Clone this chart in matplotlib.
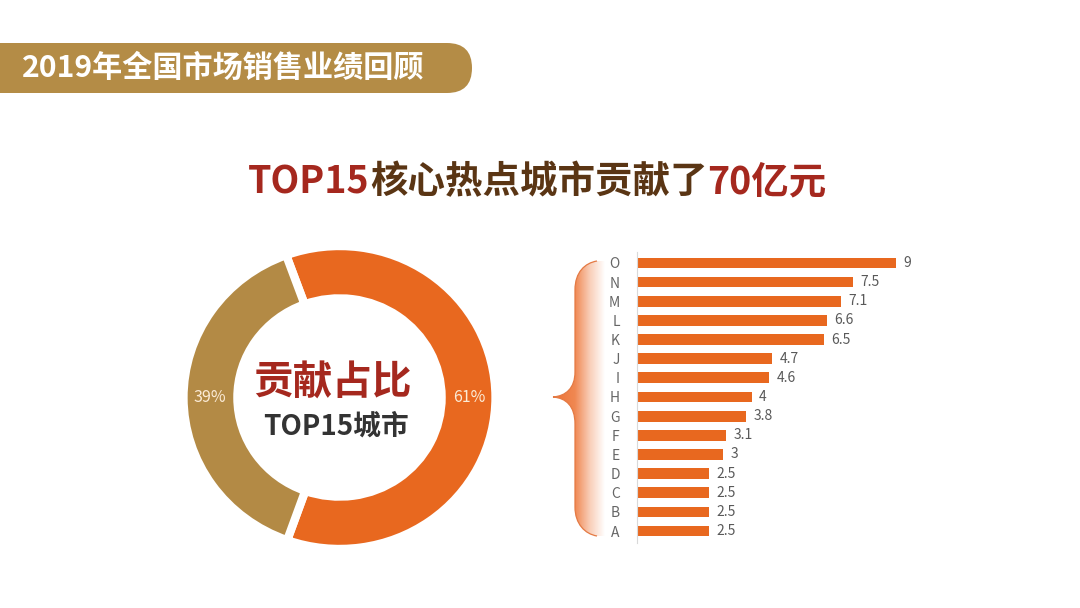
import matplotlib
matplotlib.use('Agg')
import matplotlib.pyplot as plt
import numpy as np
from matplotlib.patches import FancyBboxPatch, PathPatch
from matplotlib.path import Path

plt.rcParams['font.family'] = ['Noto Sans CJK SC', 'DejaVu Sans']

# ---- data ----
header_text = '2019年全国市场销售业绩回顾'
title_parts = ['TOP15', '核心热点城市贡献了', '70亿元']
share_names = ['TOP15城市', '其他城市']
share_values = [61, 39]
center_title = '贡献占比'
center_sub = 'TOP15城市'
cities = ['A', 'B', 'C', 'D', 'E', 'F', 'G', 'H', 'I', 'J', 'K', 'L', 'M', 'N', 'O']
city_values = [2.5, 2.5, 2.5, 2.5, 3, 3.1, 3.8, 4, 4.6, 4.7, 6.5, 6.6, 7.1, 7.5, 9]

# colours
ORANGE = '#E8681F'
TAN = '#B38A45'
DARK_RED = '#A5281E'
BROWN = '#5A3514'
GREY = '#595959'

W, H = 1080, 608
fig = plt.figure(figsize=(W / 100, H / 100), dpi=100)
fig.patch.set_facecolor('white')

# background axes in pixel coordinates (y downwards)
bg = fig.add_axes([0, 0, 1, 1], zorder=0)
bg.set_axis_off()

# header pill
pill = FancyBboxPatch((-40, 43), 512, 50, boxstyle='round,pad=0,rounding_size=25',
                      facecolor='#B48C46', edgecolor='none')
bg.add_patch(pill)
bg.text(22, 68, header_text, color='white', fontsize=21.7, fontweight='bold',
        ha='left', va='center')

# multi coloured title, centred
renderer = fig.canvas.get_renderer()
part_colors = [DARK_RED, BROWN, DARK_RED]
texts = []
for part, col in zip(title_parts, part_colors):
    t = bg.text(0, 182, part, color=col, fontsize=27, fontweight='bold',
                ha='left', va='center')
    texts.append(t)
bg.set_xlim(0, W)
bg.set_ylim(H, 0)
widths = [t.get_window_extent(renderer).width for t in texts]
x = 537.5 - sum(widths) / 2
for t, w in zip(texts, widths):
    t.set_x(x)
    x += w

# curly brace with gradient shading
verts = [(597, 261),
         (585, 263), (575, 272), (575, 290),
         (575, 372),
         (575, 388), (566, 396), (553, 397),
         (566, 398), (575, 406), (575, 424),
         (575, 507),
         (575, 524), (585, 534), (597, 536),
         (605, 536), (605, 261), (597, 261)]
codes = [Path.MOVETO,
         Path.CURVE4, Path.CURVE4, Path.CURVE4,
         Path.LINETO,
         Path.CURVE4, Path.CURVE4, Path.CURVE4,
         Path.CURVE4, Path.CURVE4, Path.CURVE4,
         Path.LINETO,
         Path.CURVE4, Path.CURVE4, Path.CURVE4,
         Path.LINETO, Path.LINETO, Path.CLOSEPOLY]
brace_path = Path(verts, codes)
clip = PathPatch(brace_path, facecolor='none', edgecolor='none')
bg.add_patch(clip)
xs = np.linspace(553, 605, 200)
alpha = np.interp(xs, [553, 575, 590, 605], [1.0, 0.85, 0.35, 0.0])
grad = np.zeros((1, len(xs), 4))
grad[..., 0], grad[..., 1], grad[..., 2] = 0.93, 0.45, 0.2
grad[0, :, 3] = alpha
im = bg.imshow(grad, extent=[553, 605, 536, 261], aspect='auto', interpolation='bilinear')
im.set_clip_path(clip)
edge = Path(verts[:15], codes[:15])
bg.add_patch(PathPatch(edge, facecolor='none', edgecolor='#E47A44', lw=0.9))
bg.set_xlim(0, W)
bg.set_ylim(H, 0)

# centre texts of donut
bg.text(332, 383, center_title, color=DARK_RED, fontsize=28.5, fontweight='bold',
        ha='center', va='center')
bg.text(336, 427, center_sub, color='#333333', fontsize=20, fontweight='bold',
        ha='center', va='center')

# ---- donut ----
cx, cy = 339.5, 397.5
bw, bh = 333.5, 323.8
ax1 = fig.add_axes([(cx - bw / 2) / W, (H - cy - bh / 2) / H, bw / W, bh / H], zorder=1)
ax1.pie(share_values, colors=[ORANGE, TAN], startangle=110, counterclock=False,
        radius=1.076, wedgeprops=dict(width=0.372, edgecolor='white', linewidth=6),
        autopct=lambda p: f'{p:.0f}%', pctdistance=0.83,
        textprops=dict(color='#FBEBD6', fontsize=11.5))
ax1.set_xlim(-1.15, 1.15)
ax1.set_ylim(-1.15, 1.15)
ax1.set_aspect('auto')
ax1.patch.set_alpha(0)

# ---- bar chart ----
x0, x1 = 637, 925
y0, y1 = 251.5, 542.5
ax2 = fig.add_axes([x0 / W, (H - y1) / H, (x1 - x0) / W, (y1 - y0) / H], zorder=1)
bars = ax2.barh(cities, city_values, height=0.56, color=ORANGE)
ax2.bar_label(bars, labels=[f'{v:g}' for v in city_values], padding=5,
              fontsize=10, color=GREY)
ax2.set_xlim(0, 10)
ax2.set_ylim(-0.6, len(cities) - 0.4)
for s in ['top', 'right', 'bottom']:
    ax2.spines[s].set_visible(False)
ax2.spines['left'].set_color('#D9D9D9')
ax2.spines['left'].set_linewidth(0.8)
ax2.tick_params(left=False, bottom=False, labelbottom=False,
                labelsize=10, labelcolor='#666666', pad=9)
ax2.patch.set_alpha(0)

fig.savefig('out.png', dpi=100, facecolor='white')
